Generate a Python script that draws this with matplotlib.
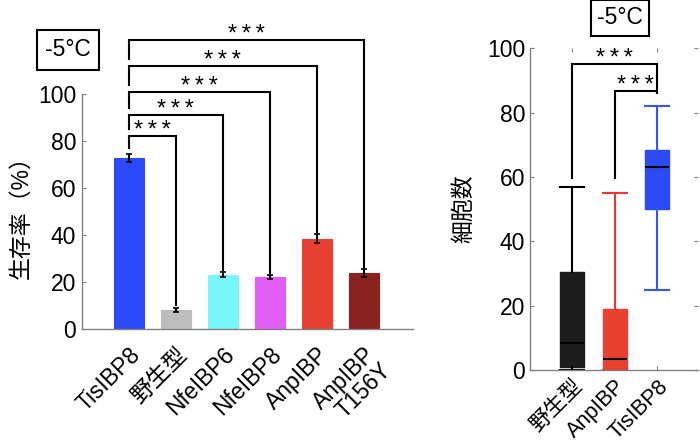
import numpy as np
import matplotlib
matplotlib.use('Agg')
import matplotlib.pyplot as plt

plt.rcParams['font.family'] = ['Liberation Sans', 'Noto Sans CJK JP', 'DejaVu Sans']

# left panel: survival rate
strains = ['TisIBP8', '野生型', 'NfeIBP6', 'NfeIBP8', 'AnpIBP', 'AnpIBP\nT156Y']
survival = [72.8, 8.2, 23.2, 22.3, 38.5, 23.8]
survival_err = [1.8, 1.0, 1.0, 0.8, 2.0, 1.6]
bar_colors = ['#2b4bfa', '#bdbdbd', '#77f7f8', '#e25cf7', '#e84033', '#8b2220']
bracket_tops = [82, 91, 101, 112, 123]

# right panel: cell counts (box stats)
box_labels = ['野生型', 'AnpIBP', 'TisIBP8']
box_min = [0, 0, 25]
box_q1 = [1, 0, 50]
box_med = [8.5, 3.5, 63]
box_q3 = [30.5, 19, 68.5]
box_max = [57, 55, 82]
box_fill = ['#1c1c1c', '#e8412f', '#2b4bf5']
box_line = ['#000000', '#f03535', '#3355ff']
box_brackets = [(1, 3, 95.2), (2, 3, 86.6)]

gray = '#808080'
fs = 16.5
stars = '*\u2009*\u2009*'
fig = plt.figure(figsize=(7, 4.46), dpi=100)

# ---- left chart ----
ax = fig.add_axes([0.117, 0.262, 0.473, 0.527])
x = np.arange(len(strains))
ax.bar(x, survival, width=0.64, color=bar_colors, edgecolor=bar_colors, linewidth=0.8)
ax.errorbar(x, survival, yerr=survival_err, fmt='none', ecolor='black',
            elinewidth=1.5, capsize=2, capthick=1.2)
ax.set_xlim(-1, 6.05)
ax.set_ylim(0, 100)
ax.set_yticks([0, 20, 40, 60, 80, 100])
ax.set_xticks(x)
ax.set_xticklabels(strains, rotation=45, ha='right', rotation_mode='anchor', fontsize=fs,
                   linespacing=0.95)
ax.tick_params(axis='y', direction='in', length=3, color=gray, labelsize=fs, pad=4)
ax.tick_params(axis='x', length=0, pad=10)
for s in ['top', 'right']:
    ax.spines[s].set_visible(False)
for s in ['left', 'bottom']:
    ax.spines[s].set_color(gray)
    ax.spines[s].set_linewidth(1)
ax.set_ylabel('生存率（%）', fontsize=fs, labelpad=4)

prev = survival[0] + survival_err[0] + 2.5
for i, h in enumerate(bracket_tops, start=1):
    right_bottom = survival[i] + survival_err[i] + 1.0
    ax.plot([0, 0, i, i], [prev, h, h, right_bottom], color='black', lw=1.5,
            clip_on=False, solid_joinstyle='miter')
    ax.text(i / 2, h - 0.4, stars, ha='center', va='baseline', fontsize=17, clip_on=False)
    prev = h + 3

fig.text(68 / 700, 1 - 50 / 446, '-5°C', ha='center', va='center', fontsize=fs,
         bbox=dict(boxstyle='square,pad=0.35', fc='white', ec='black', lw=1.5))

# ---- right chart ----
ax2 = fig.add_axes([0.757, 0.170, 0.240, 0.722])
stats = []
for i in range(len(box_labels)):
    stats.append(dict(whislo=box_min[i], q1=box_q1[i], med=box_med[i], q3=box_q3[i],
                      whishi=box_max[i], label=box_labels[i]))
pos = [1, 2, 3]
b = ax2.bxp(stats, positions=pos, widths=0.56, showfliers=False, patch_artist=True,
            capwidths=0.56)
for i in range(3):
    b['boxes'][i].set_facecolor(box_fill[i])
    b['boxes'][i].set_edgecolor(box_fill[i])
    b['medians'][i].set_color('black')
    b['medians'][i].set_linewidth(1.5)
    for w in b['whiskers'][2 * i:2 * i + 2]:
        w.set_color(box_line[i])
        w.set_linewidth(1.5)
    for c in b['caps'][2 * i:2 * i + 2]:
        c.set_color(box_line[i])
        c.set_linewidth(1.5)
ax2.set_xlim(0.02, 3.95)
ax2.set_ylim(0, 100)
ax2.set_yticks([0, 20, 40, 60, 80, 100])
ax2.set_xticks(pos)
ax2.set_xticklabels(box_labels, rotation=45, ha='right', rotation_mode='anchor', fontsize=15.5)
ax2.tick_params(axis='both', direction='in', length=3, color=gray, labelsize=fs,
                top=True, right=True)
ax2.tick_params(axis='x', pad=4, labelsize=15.5)
for s in ['top', 'right']:
    ax2.spines[s].set_visible(False)
for s in ['left', 'bottom']:
    ax2.spines[s].set_color(gray)
    ax2.spines[s].set_linewidth(1)
ax2.set_ylabel('細胞数', fontsize=fs, labelpad=8)

for (a, bb, h) in box_brackets:
    ax2.plot([a, a, bb, bb], [59.6, h, h, 86], color='black', lw=1.5,
             clip_on=False, solid_joinstyle='miter')
    ax2.text((a + bb) / 2, h - 0.3, stars, ha='center', va='baseline', fontsize=17,
             clip_on=False)

fig.text(620 / 700, 1 - 18 / 446, '-5°C', ha='center', va='center', fontsize=fs,
         bbox=dict(boxstyle='square,pad=0.28', fc='white', ec='black', lw=1.5))

fig.savefig('out.png', dpi=100)
